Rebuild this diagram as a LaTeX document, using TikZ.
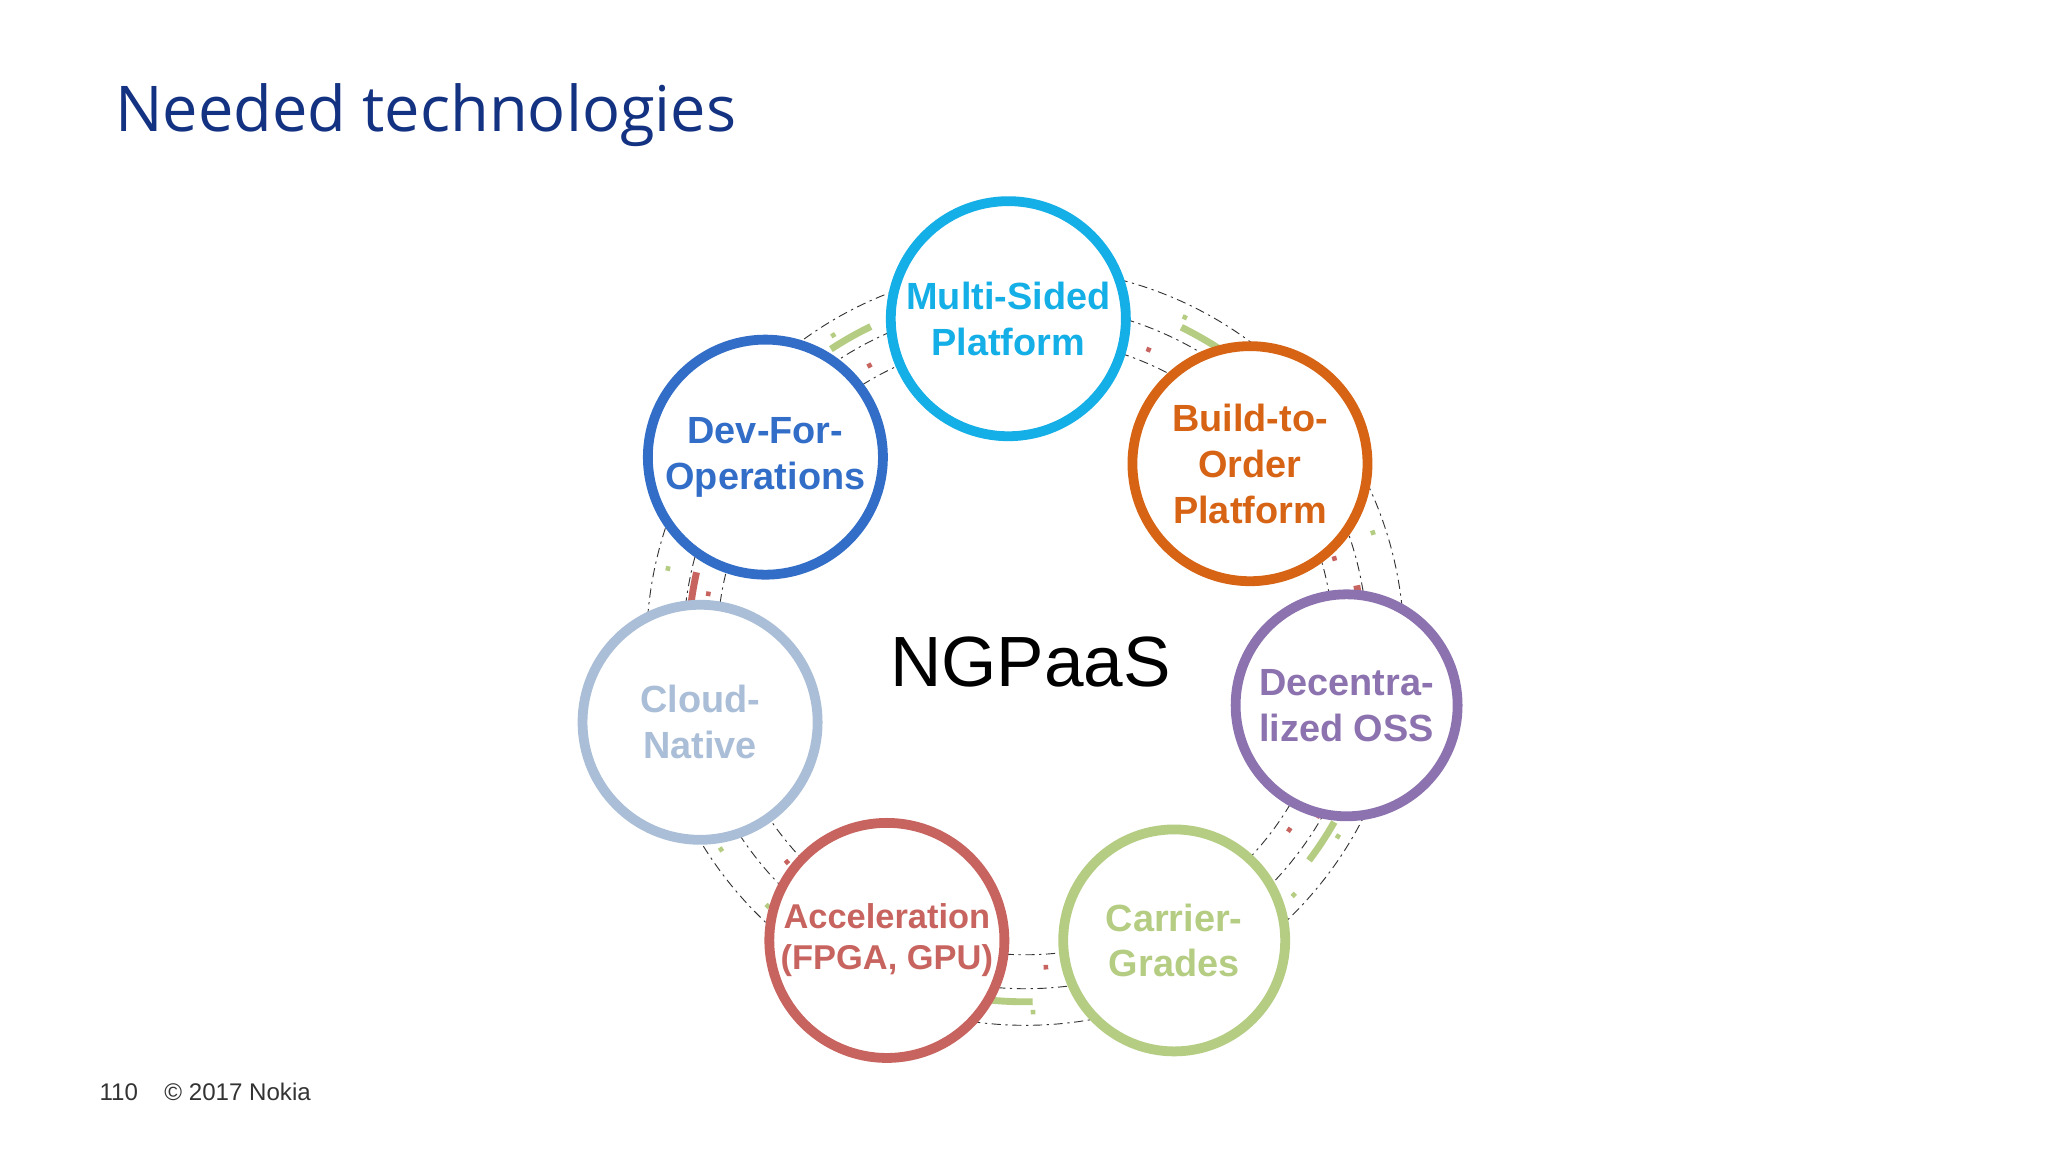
\documentclass[tikz,border=0pt]{standalone}
\usepackage{fontspec}
\setmainfont{Liberation Sans}
\newfontfamily\titlefont{Open Sans}
\definecolor{cMS}{RGB}{20,175,230}
\definecolor{cBO}{RGB}{215,100,20}
\definecolor{cDO}{RGB}{140,115,175}
\definecolor{cCG}{RGB}{180,205,130}
\definecolor{cAC}{RGB}{200,100,95}
\definecolor{cCN}{RGB}{170,190,215}
\definecolor{cDF}{RGB}{50,110,200}
\definecolor{cTT}{RGB}{20,50,130}
\begin{document}
\begin{tikzpicture}[x=0.02cm,y=-0.02cm,
  tech/.style={circle,draw,line width=0.15cm,fill=white,minimum size=3.6cm,inner sep=0pt,align=center,font=\fontsize{16.5}{20}\selectfont\bfseries},
  ringline/.style={line width=0.4pt,dash pattern=on 4pt off 2pt on 1pt off 2pt,black!80}]
\useasboundingbox (0,0) rectangle (1568,882);
\fill[white] (0,0) rectangle (1568,882);
\node[anchor=west,text=cTT,font=\titlefont\fontsize{27.5}{30}\selectfont] (title) at (82,88) {Needed technologies};
\coordinate (c) at (785,495);
\draw[ringline] (c) circle[radius=290];
\draw[ringline] (c) circle[radius=262];
\draw[ringline] (c) circle[radius=236];
\draw[cCG,line width=3pt,dash pattern=on 20pt off 60pt] (c) circle[radius=272];
\draw[cAC,line width=3pt,dash pattern=on 14pt off 90pt,dash phase=40pt] (c) circle[radius=258];
\draw[cAC,line width=2pt,dash pattern=on 2pt off 40pt] (c) circle[radius=246];
\draw[cCG,line width=2pt,dash pattern=on 2pt off 30pt,dash phase=10pt] (c) circle[radius=280];
\node[tech,draw=cMS,text=cMS] (ms) at (772,244) {Multi-Sided\\Platform};
\node[tech,draw=cBO,text=cBO] (bo) at (957,355) {Build-to-\\Order\\Platform};
\node[tech,draw=cDO,text=cDO,minimum size=3.4cm] (do) at (1031,540) {Decentra-\\lized OSS};
\node[tech,draw=cCG,text=cCG,minimum size=3.4cm] (cg) at (899,720) {Carrier-\\Grades};
\node[tech,draw=cAC,text=cAC,font=\fontsize{15}{18}\selectfont\bfseries] (ac) at (679,720) {Acceleration\\(FPGA, GPU)};
\node[tech,draw=cCN,text=cCN] (cn) at (536,553) {Cloud-\\Native};
\node[tech,draw=cDF,text=cDF] (df) at (586,350) {Dev-For-\\Operations};
\node[font=\fontsize{31}{34}\selectfont] (ng) at (789,507) {NGPaaS};
\node[anchor=west,font=\fontsize{10.5}{12}\selectfont,text=black!80] (ft) at (70,836) {110\hspace{1.1em}\textcopyright\ 2017 Nokia};
\end{tikzpicture}
\end{document}
